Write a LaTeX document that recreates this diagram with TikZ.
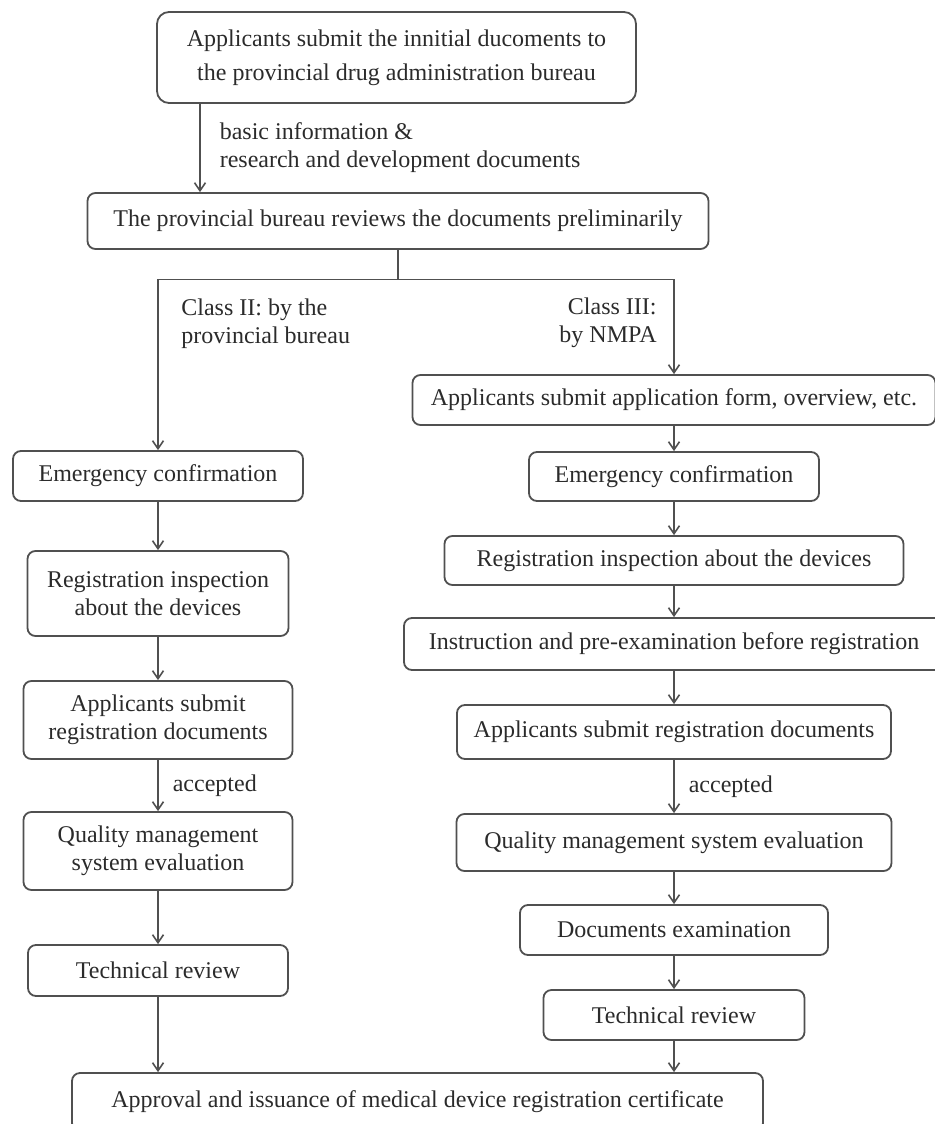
\documentclass[tikz,border=0pt]{standalone}
\usepackage{fontspec}
\setmainfont{Liberation Serif}
\usetikzlibrary{arrows.meta}
\definecolor{linegray}{HTML}{505050}
\definecolor{textgray}{HTML}{2B2B2B}
\begin{document}
\begin{tikzpicture}[node distance=40pt, font=\fontsize{12}{14}\selectfont, text=textgray, >={Straight Barb[length=4pt,width=5.5pt]}]
\tikzstyle{roundbox} = [rectangle, rounded corners=4pt, inner sep=2pt, text centered, align=center, draw=linegray, line width=0.9pt]
\tikzstyle{note} = [inner sep=0pt, align=left]
\tikzstyle{link} = [->, draw=linegray, line width=0.8pt]
\useasboundingbox (0,0) rectangle (467.5pt,-562pt);
% common steps
\node (init)[roundbox, rounded corners=6pt, minimum width=239.5pt, minimum height=45.5pt] at (198.25pt,-28.75pt) {Applicants submit the innitial ducoments to\\[3pt]the provincial drug administration bureau};
\node (prelim)[roundbox, minimum width=310.5pt, minimum height=28pt, below of=init, node distance=81.75pt, xshift=0.75pt] {The provincial bureau reviews the documents preliminarily};
\coordinate (split) at ([yshift=-14.75pt]prelim.south);
% Class II column
\node (emL)[roundbox, minimum width=145pt, minimum height=25pt] at (79pt,-238pt) {Emergency confirmation};
\node (inspL)[roundbox, minimum width=130.5pt, minimum height=42.5pt, below of=emL, node distance=58.75pt] {Registration inspection\\about the devices};
\node (subL)[roundbox, minimum width=134.5pt, minimum height=39pt, below of=inspL, node distance=63.25pt] {Applicants submit\\registration documents};
\node (qmsL)[roundbox, minimum width=134.5pt, minimum height=39pt, below of=subL, node distance=65.5pt] {Quality management\\system evaluation};
\node (techL)[roundbox, minimum width=130pt, minimum height=25.5pt, below of=qmsL, node distance=59.75pt] {Technical review};
% Class III column
\node (formR)[roundbox, minimum width=261.5pt, minimum height=25pt] at (337pt,-200pt) {Applicants submit application form, overview, etc.};
\node (emR)[roundbox, minimum width=145pt, minimum height=24.5pt, below of=formR, node distance=38.25pt] {Emergency confirmation};
\node (inspR)[roundbox, minimum width=229.5pt, minimum height=24.5pt, below of=emR, node distance=42pt] {Registration inspection about the devices};
\node (instR)[roundbox, minimum width=270pt, minimum height=26pt, below of=inspR, node distance=41.75pt] {Instruction and pre-examination before registration};
\node (subR)[roundbox, minimum width=217pt, minimum height=27pt, below of=instR, node distance=44pt] {Applicants submit registration documents};
\node (qmsR)[roundbox, minimum width=217.5pt, minimum height=28.5pt, below of=subR, node distance=55.25pt] {Quality management system evaluation};
\node (docR)[roundbox, minimum width=154pt, minimum height=25pt, below of=qmsR, node distance=43.75pt] {Documents examination};
\node (techR)[roundbox, minimum width=130.5pt, minimum height=25pt, below of=docR, node distance=42.5pt] {Technical review};
% final step
\node (cert)[roundbox, minimum width=345.5pt, minimum height=29pt] at (208.75pt,-551pt) {Approval and issuance of medical device registration certificate};
% labels of the branches
\node (clII)[note, anchor=west] at (90.5pt,-162pt) {Class II: by the\\provincial bureau};
\node (clIII)[note, anchor=east, align=right] at (328.5pt,-161.5pt) {Class III:\\by NMPA};
% connectors
\draw [link] ([xshift=-98.25pt]init.south) -- ([xshift=-98.25pt]init.south |- prelim.north) node[note, midway, right, xshift=9.5pt] {basic information \&\\research and development documents};
\draw [draw=linegray, line width=0.8pt] (prelim) -- (split);
\draw [link] (split) -| (emL);
\draw [link] (split) -| (formR);
\draw [link] (emL) -- (inspL);
\draw [link] (inspL) -- (subL);
\draw [link] (subL) -- (qmsL) node[note, midway, right, xshift=7pt] {accepted};
\draw [link] (qmsL) -- (techL);
\draw [link] (techL) -- (techL |- cert.north);
\draw [link] (formR) -- (emR);
\draw [link] (emR) -- (inspR);
\draw [link] (inspR) -- (instR);
\draw [link] (instR) -- (subR);
\draw [link] (subR) -- (qmsR) node[note, midway, right, xshift=7pt] {accepted};
\draw [link] (qmsR) -- (docR);
\draw [link] (docR) -- (techR);
\draw [link] (techR) -- (techR |- cert.north);
\end{tikzpicture}
\end{document}
